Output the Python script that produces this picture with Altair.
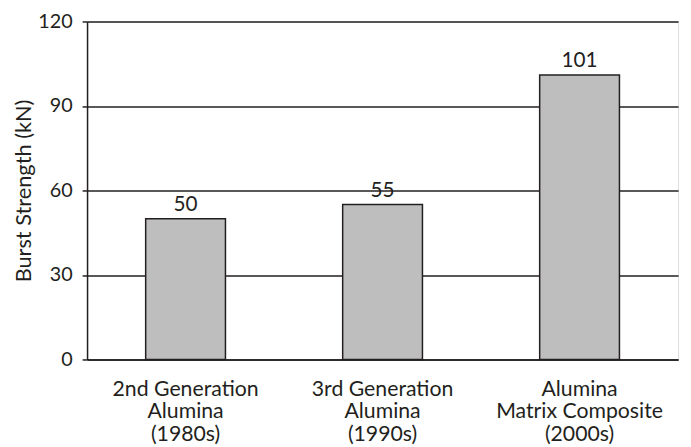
import altair as alt
import pandas as pd

categories = ["2nd Generation|Alumina|(1980s)", "3rd Generation|Alumina|(1990s)", "Alumina|Matrix Composite|(2000s)"]
values = [50, 55, 101]
y_ticks = [0, 30, 60, 90, 120]

df = pd.DataFrame({"cat": categories, "val": values})

FONT = "Lato"
INK = "#231f20"

x = alt.X("cat:N", sort=categories, title=None,
          scale=alt.Scale(paddingInner=0.595, paddingOuter=0.2975),
          axis=alt.Axis(labelExpr="split(datum.label, '|')", labelAngle=0,
                        labelFontSize=21.5, labelFont=FONT, labelColor=INK,
                        labelLineHeight=23, labelPadding=19, ticks=False,
                        domainColor=INK, domainWidth=1.5))
y = alt.Y("val:Q", title="Burst Strength (kN)",
          scale=alt.Scale(domain=[0, 120], nice=False),
          axis=alt.Axis(values=y_ticks, labelFontSize=20, labelFont=FONT, labelColor=INK,
                        labelPadding=10, tickSize=5, tickColor=INK, tickWidth=1.5,
                        domainColor=INK, domainWidth=1.5, gridColor=INK, gridWidth=1.5,
                        gridOpacity=1, titleFont=FONT, titleFontSize=22, titleFontWeight="normal",
                        titleColor=INK, titlePadding=2))

bars = alt.Chart(df).mark_bar(color="#bebebf", stroke=INK, strokeWidth=1.5).encode(x=x, y=y)
labels = alt.Chart(df).mark_text(baseline="alphabetic", dy=-8, font=FONT, fontSize=21, color=INK).encode(
    x=alt.X("cat:N", sort=categories), y="val:Q", text="val:Q")

chart = (bars + labels).properties(
    width=598, height=342,
    autosize=alt.AutoSizeParams(type="none"),
    padding={"left": 80, "top": 11, "right": 5, "bottom": 92},
).configure_view(stroke=INK, strokeWidth=1.5).configure(background="white")

chart.save("out.html", embed_options={"renderer": "svg", "actions": False})
